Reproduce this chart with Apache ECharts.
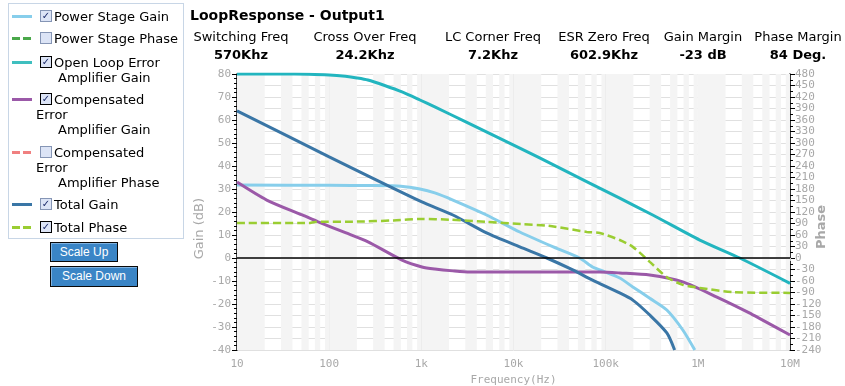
<!DOCTYPE html>
<html><head><meta charset="utf-8">
<script src="https://cdn.jsdelivr.net/npm/echarts@6/dist/echarts.min.js"></script>
<style>
html,body{margin:0;padding:0;width:845px;height:386px;overflow:hidden;background:#fff;font-family:"DejaVu Sans",Verdana,sans-serif;}
#chart{position:absolute;left:0;top:0;width:845px;height:386px;}
.panel{position:absolute;left:8px;top:3px;width:176px;height:236px;border:1px solid #c8d6e6;box-sizing:border-box;}
.t{position:absolute;font-size:13px;color:#000;white-space:nowrap;line-height:15px;}
.sw{position:absolute;left:12px;width:20px;height:3px;}
.cb{position:absolute;left:40px;width:10px;height:10px;border:1px solid #8595b5;background:#dce4f6;font-size:10px;line-height:10px;text-align:center;color:#1a2a6a;font-weight:bold;}
.cb.dk{border-color:#000;}
.hd{position:absolute;white-space:nowrap;font-size:13px;color:#000;text-align:center;width:130px;}
.btn{position:absolute;left:50px;background:#3a85c6;color:#fff;font-family:"Liberation Sans",Arial,sans-serif;font-size:12px;text-align:center;border:1px solid #0a0a0a;box-shadow:inset 1px 1px 0 #7fb2e0;box-sizing:border-box;}
</style>
</head><body>
<div id="chart"></div>
<div class="panel"></div>
<div id="legend"></div>
<div id="header"></div>
<div class="btn" style="top:242px;width:68px;height:20px;line-height:18px;">Scale Up</div>
<div class="btn" style="top:266px;width:88px;height:21px;line-height:19px;">Scale Down</div>
<script>
// ---------------- data ----------------
const TITLE = 'LoopResponse - Output1';
const HEADER_LABELS = ['Switching Freq','Cross Over Freq','LC Corner Freq','ESR Zero Freq','Gain Margin','Phase Margin'];
const HEADER_VALUES = ['570Khz','24.2Khz','7.2Khz','602.9Khz','-23 dB','84 Deg.'];

const FREQ_TICK_LABELS = ['10','100','1k','10k','100k','1M','10M'];

const psgFreq = [10, 100, 300, 600, 966, 1400, 2200, 5100, 11700, 27000, 52000, 72000, 86500, 142000, 197000, 301000, 461000, 687000, 927000];
const psgGain = [31.7, 31.6, 31.5, 31.2, 30.0, 28.3, 25.2, 18.7, 11.3, 4.8, 0, -3.9, -5.2, -8.7, -12.6, -17.5, -22.6, -31.3, -40];

const olFreq = [10, 30, 60, 100, 150, 200, 263, 400, 617, 966, 1400, 3000, 11700, 30000, 142000, 324000, 1050000, 2850000, 10000000];
const olGain = [80, 80, 79.9, 79.6, 79, 78.3, 77.4, 75, 72.2, 68.7, 65.7, 59.3, 47.8, 39.6, 26, 18.7, 7.8, 0, -11];

const cegFreq = [10, 21, 51, 76, 150, 264, 617, 1016, 1400, 2200, 3370, 10000, 86500, 142000, 301000, 687000, 1610000, 3660000, 10000000];
const cegGain = [33, 25.2, 18.7, 15.7, 11, 7, -0.9, -3.9, -4.8, -5.6, -6.1, -6.1, -6.1, -6.5, -7.4, -10.4, -17, -24, -33.5];

const tgFreq = [10, 100, 1000, 2200, 5100, 11700, 23000, 44000, 72000, 142000, 197000, 301000, 461000, 560000];
const tgGain = [64, 44, 24.5, 18.7, 10.9, 4.8, 0, -5.2, -9.6, -15.2, -18.3, -24.8, -32.6, -40];

const tpFreq = [10, 60, 70, 200, 500, 1000, 2000, 5100, 12000, 24000, 62500, 86500, 142000, 197000, 301000, 461000, 687000, 1050000, 2400000, 10000000];
const tpPhase = [91, 91, 94, 95, 98, 102, 100, 94, 88.5, 84, 68, 65, 47, 29, -10, -50, -70, -78, -89, -91];

const DECADES = [10, 100, 1000, 10000, 100000, 1000000];
const BAND_MULTS = [[1,2],[3,4],[5,6],[7,8],[9,10]];

// legend entries
const LEGEND = [
  {lines:['Power Stage Gain'], color:'#87ceeb', dash:false, checked:true, dark:false},
  {lines:['Power Stage Phase'], color:'#4aa84a', dash:true, checked:false, dark:false},
  {lines:['Open Loop Error','Amplifier Gain'], color:'#3fbfbf', dash:false, checked:true, dark:true},
  {lines:['Compensated','Error','Amplifier Gain'], color:'#9b59a8', dash:false, checked:true, dark:true},
  {lines:['Compensated','Error','Amplifier Phase'], color:'#f08080', dash:true, checked:false, dark:false},
  {lines:['Total Gain'], color:'#3a76a6', dash:false, checked:true, dark:false},
  {lines:['Total Phase'], color:'#9acd32', dash:true, checked:true, dark:true}
];

// ---------------- html legend & header ----------------
(function(){
  const L = document.getElementById('legend');
  const rowTops = [9, 31, 55, 92, 145, 197, 220];
  let h = '';
  LEGEND.forEach((e,i)=>{
    const top = rowTops[i];
    const bg = e.dash ? `repeating-linear-gradient(90deg, ${e.color} 0 8px, transparent 8px 11px)` : e.color;
    h += `<div class="sw" style="top:${top+6}px;background:${bg};"></div>`;
    h += `<div class="cb${e.dark?' dk':''}" style="top:${top+1}px;">${e.checked?'&#10003;':''}</div>`;
    e.lines.forEach((ln,j)=>{
      let left = 54;
      if (j>0) left = (ln==='Error') ? 36 : 58;
      h += `<div class="t" style="left:${left}px;top:${top + j*15}px;">${ln}</div>`;
    });
  });
  L.innerHTML = h;
  const H = document.getElementById('header');
  const centers = [241, 365, 493, 604, 703, 798];
  let hh = `<div style="position:absolute;left:190px;top:7px;font-size:14px;font-weight:bold;white-space:nowrap;">${TITLE}</div>`;
  HEADER_LABELS.forEach((s,i)=>{
    hh += `<div class="hd" style="left:${centers[i]-65}px;top:29px;">${s}</div>`;
    hh += `<div class="hd" style="left:${centers[i]-65}px;top:47px;font-weight:bold;">${HEADER_VALUES[i]}</div>`;
  });
  H.innerHTML = hh;
})();

// ---------------- chart ----------------
const zip = (a,b)=>a.map((v,i)=>[v,b[i]]);
const bands = [];
DECADES.forEach(d=>BAND_MULTS.forEach(m=>bands.push([{xAxis:d*m[0]},{xAxis:d*m[1]}])));

const chart = echarts.init(document.getElementById('chart'), null, {renderer:'canvas'});
const mono = '"DejaVu Sans Mono", monospace';
const lab = {color:'#a8a8a8', fontFamily:mono, fontSize:11};
chart.setOption({
  animation:false,
  grid:{left:237, right:55, top:74, bottom:36, containLabel:false, outerBoundsMode:'none'},
  xAxis:{type:'log', logBase:10, min:10, max:10000000,
    name:'Frequency(Hz)', nameLocation:'middle', nameGap:24,
    nameTextStyle:{color:'#a8a8a8', fontFamily:mono, fontSize:11},
    axisLine:{show:false}, axisTick:{show:true, length:3, lineStyle:{color:'#cccccc'}},
    axisLabel:Object.assign({margin:9, formatter:v=>FREQ_TICK_LABELS[Math.round(Math.log10(v))-1]}, lab),
    splitLine:{show:true, lineStyle:{color:'#d4d4d4', width:1}}},
  yAxis:[
    {type:'value', min:-40, max:80, interval:10, position:'left',
     axisLine:{show:true, onZero:false, lineStyle:{color:'#000', width:1.5}},
     axisTick:{show:true, length:5, lineStyle:{color:'#000'}},
     minorTick:{show:true, splitNumber:5, length:3, lineStyle:{color:'#000'}},
     axisLabel:Object.assign({margin:6}, lab),
     splitLine:{show:false}},
    {type:'value', min:-240, max:480, interval:30, position:'right',
     axisLine:{show:true, onZero:false, lineStyle:{color:'#000', width:1.5}},
     axisTick:{show:true, length:5, lineStyle:{color:'#000'}},
     minorTick:{show:true, splitNumber:2, length:3, lineStyle:{color:'#000'}},
     axisLabel:Object.assign({margin:5, align:'left'}, lab),
     splitLine:{show:true, lineStyle:{color:'#e0e0e0', width:1}}}
  ],
  graphic:[
    {type:'text', left:193, top:198, rotation:Math.PI/2,
     style:{text:'Gain (dB)', fill:'#a8a8a8', font:'13px "DejaVu Sans", Verdana, sans-serif'}},
    {type:'text', left:815, top:205, rotation:Math.PI/2,
     style:{text:'Phase', fill:'#a8a8a8', font:'bold 13px "DejaVu Sans", Verdana, sans-serif'}}
  ],
  series:[
    {type:'line', name:'bands', data:[], silent:true,
     markArea:{silent:true, itemStyle:{color:'#f4f4f4'}, data:bands}},
    {type:'line', name:'Power Stage Gain', data:zip(psgFreq,psgGain), yAxisIndex:0, showSymbol:false, smooth:0.25,
     lineStyle:{color:'#87ceeb', width:3}, itemStyle:{color:'#87ceeb'},
     markLine:{silent:true, symbol:'none', label:{show:false}, lineStyle:{color:'#000', width:1.5, type:'solid'}, data:[{yAxis:0}]}},
    {type:'line', name:'Open Loop Error Amplifier Gain', data:zip(olFreq,olGain), yAxisIndex:0, showSymbol:false, smooth:0.25,
     lineStyle:{color:'#22b5bf', width:3}, itemStyle:{color:'#22b5bf'}},
    {type:'line', name:'Compensated Error Amplifier Gain', data:zip(cegFreq,cegGain), yAxisIndex:0, showSymbol:false, smooth:0.25,
     lineStyle:{color:'#9b59a8', width:3}, itemStyle:{color:'#9b59a8'}},
    {type:'line', name:'Total Gain', data:zip(tgFreq,tgGain), yAxisIndex:0, showSymbol:false, smooth:0.25,
     lineStyle:{color:'#3a76a6', width:3}, itemStyle:{color:'#3a76a6'}},
    {type:'line', name:'Total Phase', data:zip(tpFreq,tpPhase), yAxisIndex:1, showSymbol:false, smooth:0.25,
     lineStyle:{color:'#9acd32', width:2.5, type:[8,4]}, itemStyle:{color:'#9acd32'}}
  ]
});
</script>
</body></html>
